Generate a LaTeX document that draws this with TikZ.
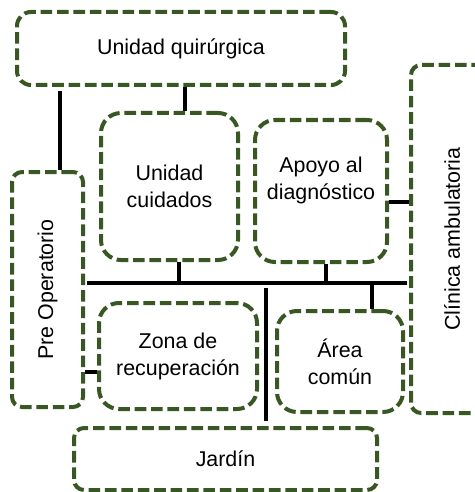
\documentclass[tikz,border=0pt]{standalone}
\usepackage{fontspec}
\setmainfont{Liberation Sans}
\usepackage{xcolor}
\usepackage{graphicx}
\usepackage{tikz}
\usetikzlibrary{positioning}
\definecolor{zonegreen}{RGB}{56,87,35}

\begin{document}
\begin{tikzpicture}[x=0.5pt,y=-0.5pt,
    zone/.style={draw=zonegreen,line width=2pt,dash pattern=on 5.8pt off 2.4pt,
      rounded corners=#1,inner sep=0pt,align=center,
      font=\fontsize{10.7}{13.5}\selectfont},
    zone/.default=10pt,
    link/.style={draw=black,line width=1.9pt}]
    \clip (0,0) rectangle (475,492);
    \node[zone=7pt,minimum width=164pt,minimum height=36.5pt] (quir) at (181,48.5) {Unidad quirúrgica};
    \node[zone=5pt,minimum width=35.5pt,minimum height=117.5pt] (preop) at (47.5,289.5) {\rotatebox{90}{Pre Operatorio}};
    \node[zone,minimum width=68.5pt,minimum height=73.5pt] (cuid) at (169.5,186.5) {Unidad\\cuidados};
    \node[zone,minimum width=66pt,minimum height=71pt,text depth=12.3pt] (apoyo) at (321,191) {Apoyo al\\diagnóstico};
    \node[zone=5pt,minimum width=41pt,minimum height=174pt] (clin) at (452,239) {\rotatebox{90}{Clínica ambulatoria}};
    \node[zone,minimum width=79pt,minimum height=53pt] (zona) at (178,356) {Zona de\\recuperación};
    \node[zone,minimum width=63pt,minimum height=50.5pt] (area) at (340,361.5) {Área\\común};
    \node[zone=5pt,minimum width=151.5pt,minimum height=31pt] (jardin) at (225.5,459) {Jardín};
    \coordinate (busL) at (87,283);
    \coordinate (busR) at (407,283);
    \coordinate (busM) at (266,288);
    % connectors
    \draw[link] (busL) -- (busR);
    \draw[link,shorten <=2pt] ([xshift=6.25pt]preop.north |- quir.south) -- ([xshift=6.25pt]preop.north);
    \draw[link] ([xshift=7.75pt]cuid.north |- quir.south) -- ([xshift=7.75pt]cuid.north);
    \draw[link] ([yshift=-5.5pt]apoyo.east) -- ([yshift=-5.5pt]apoyo.east -| clin.west);
    \draw[link] ([yshift=-8pt]zona.west) -- ([yshift=-8pt]zona.west -| preop.east);
    \draw[link] ([xshift=4.75pt]cuid.south) -- ([xshift=4.75pt]cuid.south |- busL);
    \draw[link] ([xshift=2.5pt]apoyo.south) -- ([xshift=2.5pt]apoyo.south |- busL);
    \draw[link] ([xshift=16pt]area.north) -- ([xshift=16pt]area.north |- busL);
    \draw[link,shorten >=2.5pt] (busM) -- (busM |- jardin.north);
\end{tikzpicture}
\end{document}
